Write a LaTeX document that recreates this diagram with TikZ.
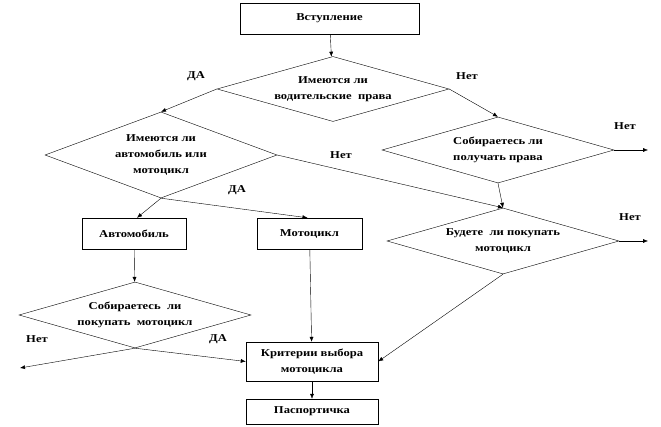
\documentclass[tikz,border=0pt]{standalone}
\usepackage{fontspec}
\setmainfont{Liberation Serif}[FakeStretch=1.2]
\usetikzlibrary{arrows.meta, shapes.geometric}

\begin{document}
\begin{tikzpicture}[x=1pt, y=-1pt,
  font=\bfseries\fontsize{10.5}{16}\selectfont,
  box/.style={draw, thin, rectangle, inner sep=0pt, align=center},
  quest/.style={draw, thin, diamond, inner sep=0pt, align=center, aspect=3.6,
    minimum width=232pt, minimum height=66pt},
  link/.style={-{Latex[length=5pt,width=4pt]}, thin},
  answer/.style={inner sep=0pt}]
  \useasboundingbox (0,0) rectangle (661,427);

  % boxes
  \node[box, minimum width=179pt, minimum height=31pt] (intro) at (329.5,18.5) {Вступление};
  \node[box, minimum width=104pt, minimum height=31pt] (car) at (134,233.5) {Автомобиль};
  \node[box, minimum width=105pt, minimum height=31pt] (moto) at (309.5,233.5) {Мотоцикл};
  \node[box, minimum width=132pt, minimum height=39pt] (crit) at (312,361.5) {Критерии выбора\\мотоцикла};
  \node[box, minimum width=132pt, minimum height=25pt] (pasp) at (312,411.5) {Паспортичка};

  % questions
  \node[quest, minimum height=65pt] (lic) at (333,89) {Имеются ли\\водительские\ \ права};
  \node[quest, aspect=2.7, minimum height=86pt] (own) at (161,155) {Имеются ли\\автомобиль или\\мотоцикл};
  \node[quest] (getlic) at (498,150) {Собираетесь ли\\получать права};
  \node[quest] (buy) at (503,241) {Будете\ \ ли покупать\\мотоцикл};
  \node[quest] (buycar) at (135,315) {Собираетесь\ \ ли\\покупать\ \ мотоцикл};

  % free ends
  \coordinate (out1) at (648,150);
  \coordinate (out2) at (648,241);
  \coordinate (out3) at (20,368);

  % answers
  \node[answer] (yes1) at (196,76) {ДА};
  \node[answer] (no1) at (467,76) {Нет};
  \node[answer] (no2) at (625,126) {Нет};
  \node[answer] (no3) at (341,155) {Нет};
  \node[answer] (yes2) at (237,190) {ДА};
  \node[answer] (no4) at (630,217) {Нет};
  \node[answer] (no5) at (37,339) {Нет};
  \node[answer] (yes3) at (218,339) {ДА};

  % connectors
  \draw[link] (intro) -- (lic);
  \draw[link] (lic.west) -- (own.north);
  \draw[link] (lic.east) -- (getlic.north);
  \draw[link] (getlic.east) -- (out1);
  \draw[link] (getlic.south) -- (buy.north);
  \draw[link] (own.east) -- (buy.north);
  \draw[link] (buy.east) -- (out2);
  \draw[link] (own.south) -- ([xshift=3pt]car.north);
  \draw[link] (own.south) -- ([xshift=-2pt]moto.north);
  \draw[link] (car) -- (buycar);
  \draw[link] (moto) -- (crit);
  \draw[link] (buycar.south) -- (crit.west);
  \draw[link] (buycar.south) -- (out3);
  \draw[link] (buy.south) -- (crit.east);
  \draw[link] (crit) -- (pasp);
\end{tikzpicture}
\end{document}
